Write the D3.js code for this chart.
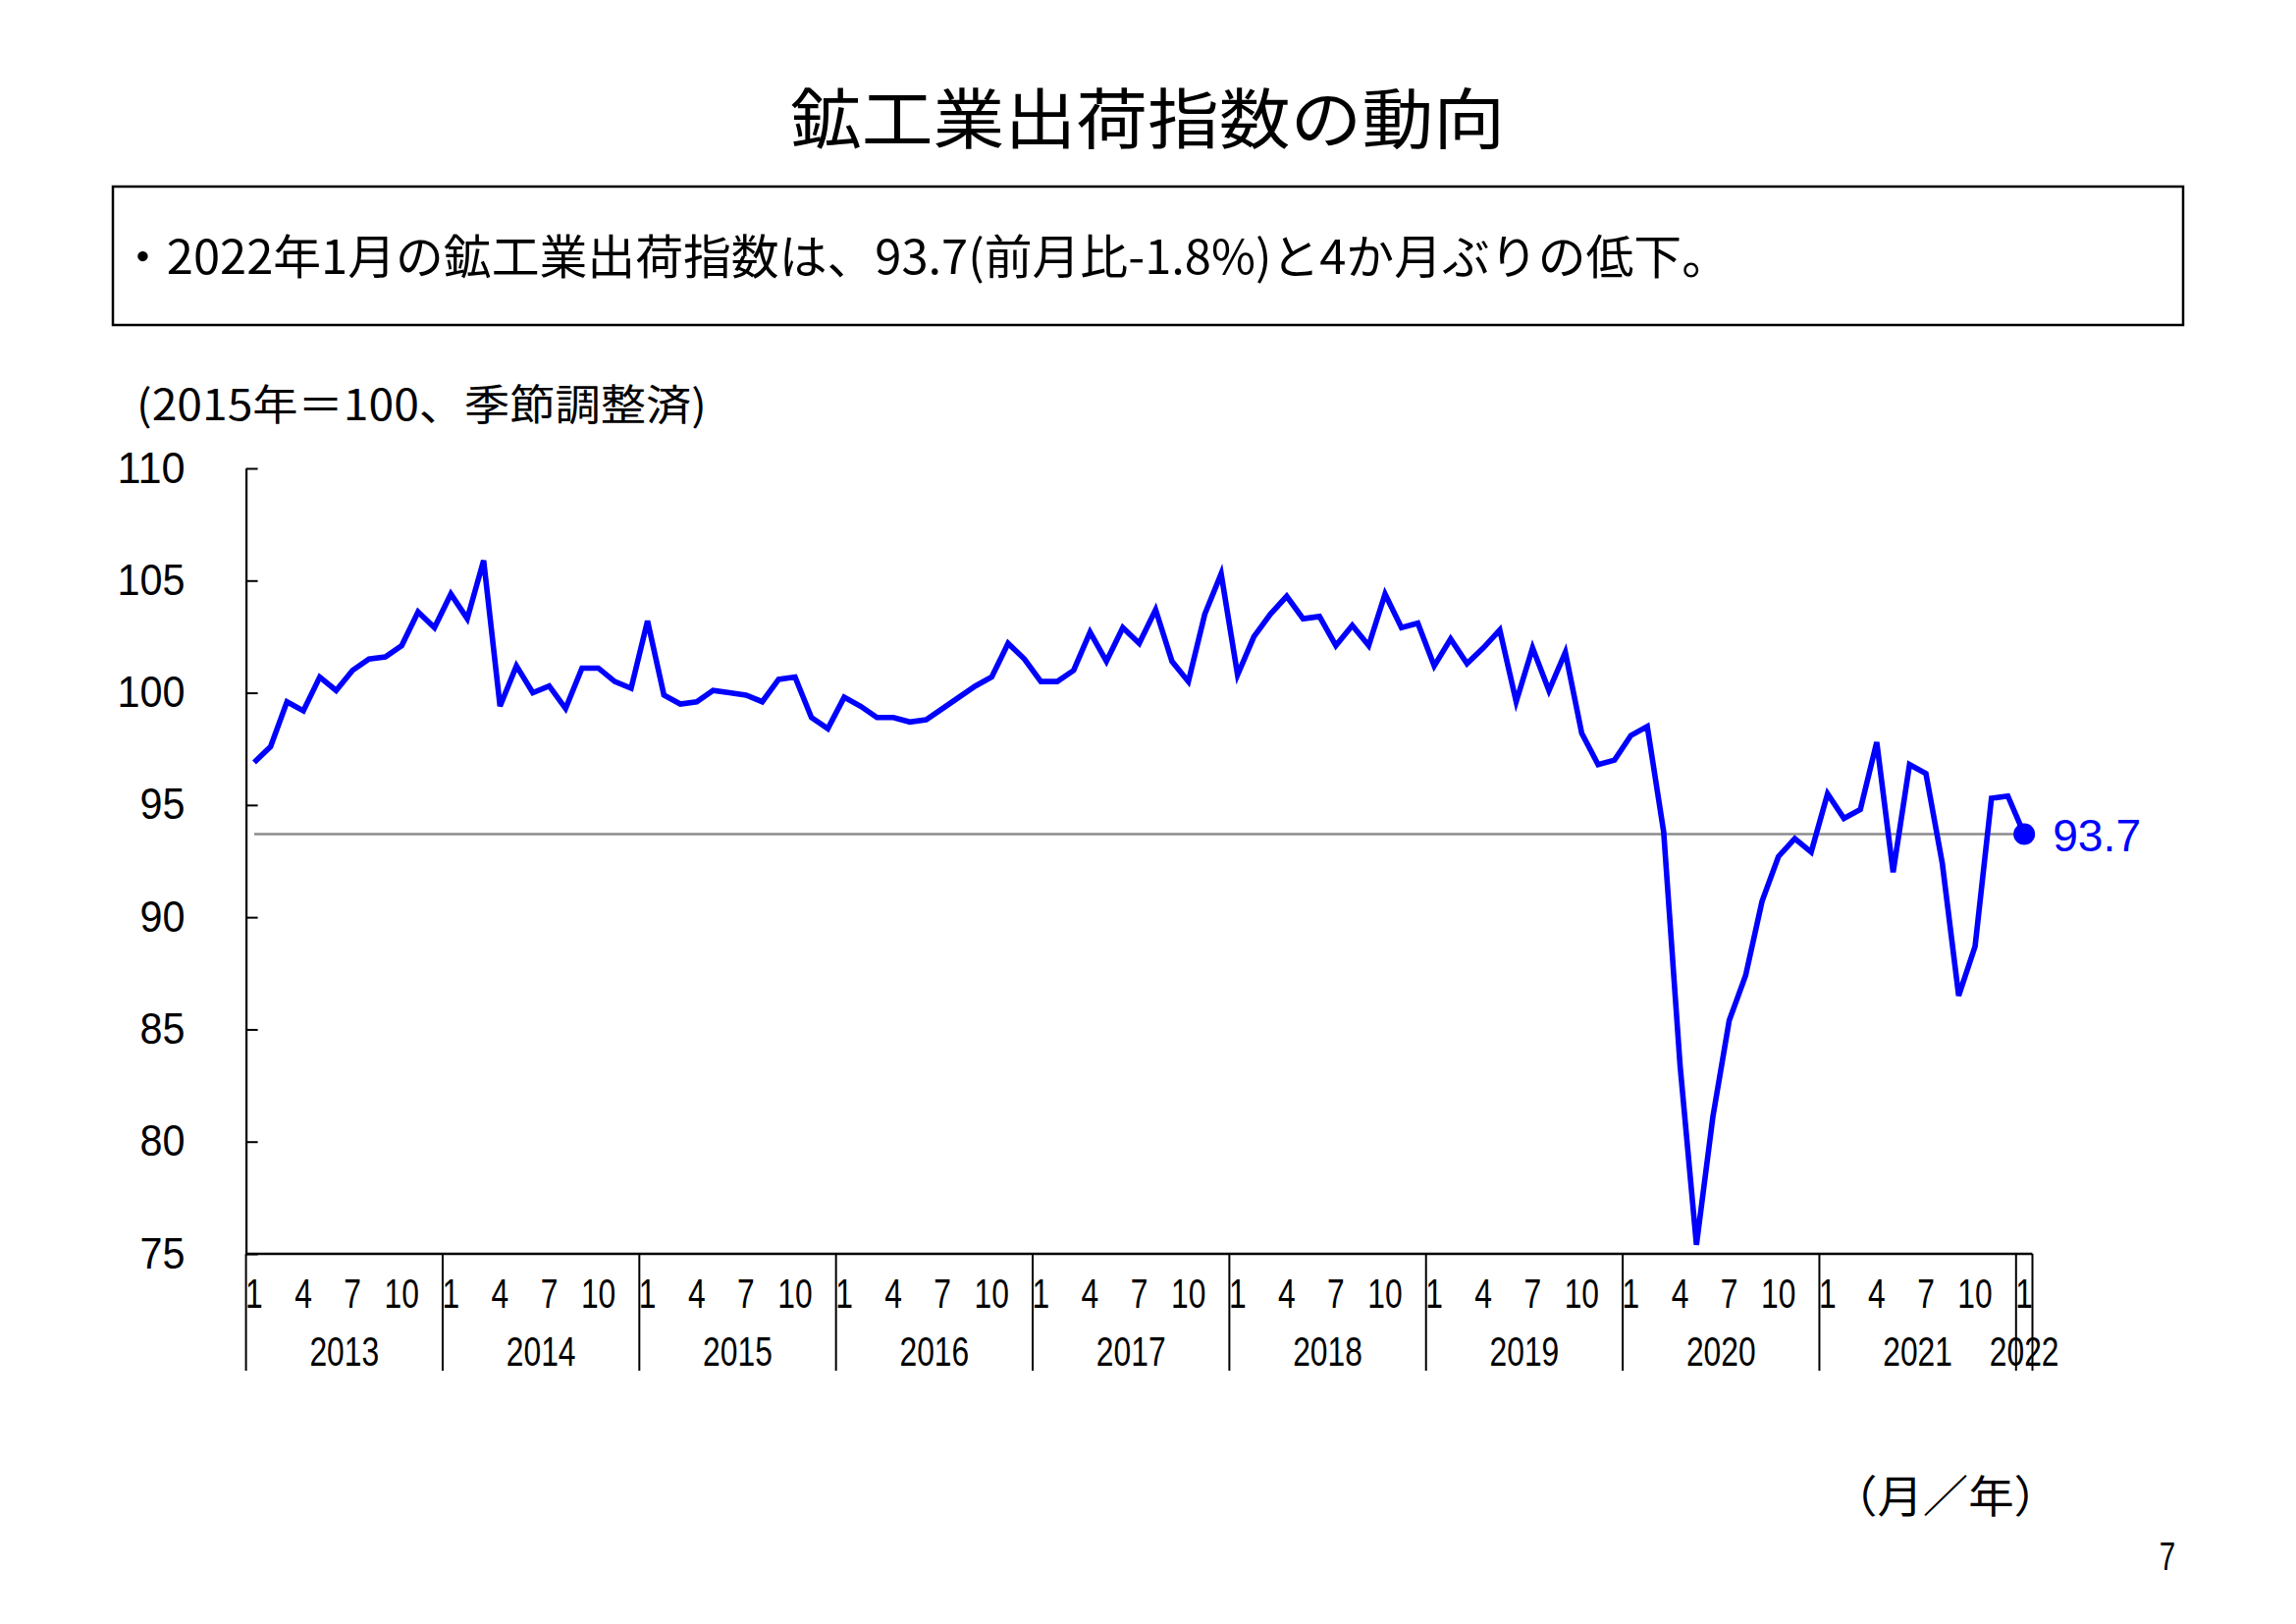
<!DOCTYPE html>
<html>
<head>
<meta charset="utf-8">
<script src="https://cdn.jsdelivr.net/npm/d3@7"></script>
<style>
html,body{margin:0;padding:0;background:#fff;}
svg{display:block;}
</style>
</head>
<body>
<svg id="chart" width="2339" height="1654"></svg>
<script>
// ---- data ----
const years = [2013, 2014, 2015, 2016, 2017, 2018, 2019, 2020, 2021, 2022];
const v2013 = [96.9, 97.6, 99.6, 99.2, 100.7, 100.1, 101.0, 101.5, 101.6, 102.1, 103.6, 102.9];
const v2014 = [104.4, 103.3, 105.9, 99.4, 101.2, 100.0, 100.3, 99.3, 101.1, 101.1, 100.5, 100.2];
const v2015 = [103.2, 99.9, 99.5, 99.6, 100.1, 100.0, 99.9, 99.6, 100.6, 100.7, 98.9, 98.4];
const v2016 = [99.8, 99.4, 98.9, 98.9, 98.7, 98.8, 99.3, 99.8, 100.3, 100.7, 102.2, 101.5];
const v2017 = [100.5, 100.5, 101.0, 102.7, 101.4, 102.9, 102.2, 103.7, 101.4, 100.5, 103.5, 105.3];
const v2018 = [100.8, 102.5, 103.5, 104.3, 103.3, 103.4, 102.1, 103.0, 102.1, 104.4, 102.9, 103.1];
const v2019 = [101.2, 102.4, 101.3, 102.0, 102.8, 99.6, 102.0, 100.1, 101.8, 98.2, 96.8, 97.0];
const v2020 = [98.1, 98.5, 93.8, 83.4, 75.4, 81.1, 85.4, 87.4, 90.7, 92.7, 93.5, 92.9];
const v2021 = [95.5, 94.4, 94.8, 97.8, 92.0, 96.8, 96.4, 92.4, 86.5, 88.7, 95.3, 95.4];
const v2022 = [93.7];
const monthTicks = [1, 4, 7, 10];
const yTicks = [75, 80, 85, 90, 95, 100, 105, 110];
const latestValue = 93.7;

const titleText = "鉱工業出荷指数の動向";
const noteText = "・2022年1月の鉱工業出荷指数は、93.7(前月比-1.8%)と4か月ぶりの低下。";
const unitText = "(2015年＝100、季節調整済)";
const axisUnitText = "（月／年）";
const pageText = "7";

const series = [].concat(v2013, v2014, v2015, v2016, v2017, v2018, v2019, v2020, v2021, v2022);
const nMonths = series.length; // 109

// ---- layout ----
const L = 250.6, R = 2070.5, T = 477, B = 1277;
const svg = d3.select("#chart");
const jp = "'Noto Sans CJK JP', 'Noto Sans', sans-serif";
const lat = "'Liberation Sans', Arial, sans-serif";

const x = d3.scaleLinear().domain([0, nMonths]).range([L, R]);
const y = d3.scaleLinear().domain([75, 110]).range([B, T]);
const px = i => x(i + 0.5);

// title
svg.append("text").attr("x", 805).attr("y", 146)
  .attr("font-family", jp).attr("font-size", 67).attr("font-weight", 400)
  .attr("textLength", 728).attr("lengthAdjust", "spacingAndGlyphs")
  .attr("fill", "#000").text(titleText);

// note box
svg.append("rect").attr("x", 115).attr("y", 190).attr("width", 2109).attr("height", 141)
  .attr("fill", "none").attr("stroke", "#000").attr("stroke-width", 2.5);
svg.append("text").attr("x", 121).attr("y", 279)
  .attr("font-family", jp).attr("font-size", 48)
  .attr("textLength", 1641).attr("lengthAdjust", "spacingAndGlyphs")
  .attr("fill", "#000").text(noteText);

// unit label
svg.append("text").attr("x", 139).attr("y", 428)
  .attr("font-family", jp).attr("font-size", 43)
  .attr("textLength", 581).attr("lengthAdjust", "spacingAndGlyphs")
  .attr("fill", "#000").text(unitText);

// y axis
const yAxis = d3.axisLeft(y).tickValues(yTicks).tickSizeInner(-12).tickSizeOuter(0).tickPadding(62);
const gy = svg.append("g").attr("transform", `translate(${L},0)`).call(yAxis);
gy.select(".domain").attr("stroke", "#000").attr("stroke-width", 2.2);
gy.selectAll(".tick line").attr("stroke", "#000").attr("stroke-width", 2);
gy.selectAll(".tick text").attr("font-family", lat).attr("font-size", 44).attr("fill", "#000")
  .attr("textLength", function () { return this.textContent.length * 23; })
  .attr("lengthAdjust", "spacingAndGlyphs");

// x axis baseline
svg.append("line").attr("x1", L).attr("x2", R).attr("y1", B).attr("y2", B)
  .attr("stroke", "#000").attr("stroke-width", 2.5);

// year separators
const sepIdx = years.map((yr, k) => k * 12).concat([nMonths]);
svg.append("g").selectAll("line").data(sepIdx).join("line")
  .attr("x1", d => x(d)).attr("x2", d => x(d))
  .attr("y1", B).attr("y2", 1396)
  .attr("stroke", "#000").attr("stroke-width", 2);

// month labels
const monthLabels = [];
years.forEach((yr, k) => {
  monthTicks.forEach(m => {
    const idx = k * 12 + (m - 1);
    if (idx < nMonths) monthLabels.push({ idx, label: String(m) });
  });
});
svg.append("g").selectAll("text").data(monthLabels).join("text")
  .attr("transform", d => `translate(${px(d.idx)},1332) scale(0.74,1)`)
  .attr("text-anchor", "middle").attr("font-family", lat).attr("font-size", 43)
  .attr("fill", "#000").text(d => d.label);

// year labels
svg.append("g").selectAll("text").data(years).join("text")
  .attr("transform", (yr, k) => {
    const s = k * 12, e = Math.min(nMonths, (k + 1) * 12);
    return `translate(${(x(s) + x(e)) / 2},1391) scale(0.74,1)`;
  })
  .attr("text-anchor", "middle").attr("font-family", lat).attr("font-size", 43)
  .attr("fill", "#000").text(d => String(d));

// reference line at latest value
svg.append("line").attr("x1", px(0)).attr("x2", px(nMonths - 1))
  .attr("y1", y(latestValue)).attr("y2", y(latestValue))
  .attr("stroke", "#8c8c8c").attr("stroke-width", 2.5);

// series line
const line = d3.line().x((d, i) => px(i)).y(d => y(d));
svg.append("path").datum(series).attr("d", line)
  .attr("fill", "none").attr("stroke", "#0000ff").attr("stroke-width", 5.6)
  .attr("stroke-linejoin", "miter").attr("stroke-miterlimit", 4);

// latest point
svg.append("circle").attr("cx", px(nMonths - 1)).attr("cy", y(latestValue)).attr("r", 11)
  .attr("fill", "#0000ff");
svg.append("text").attr("x", px(nMonths - 1) + 29).attr("y", y(latestValue) + 17)
  .attr("font-family", lat).attr("font-size", 47)
  .attr("textLength", 90).attr("lengthAdjust", "spacingAndGlyphs")
  .attr("fill", "#0000ff").text(String(latestValue));

// axis unit
svg.append("text").attr("x", 1866).attr("y", 1541)
  .attr("font-family", jp).attr("font-size", 45)
  .attr("textLength", 232).attr("lengthAdjust", "spacingAndGlyphs")
  .attr("fill", "#000").text(axisUnitText);

// page number
svg.append("text").attr("transform", "translate(2208,1599) scale(0.74,1)")
  .attr("text-anchor", "middle").attr("font-family", lat).attr("font-size", 40)
  .attr("fill", "#000").text(pageText);
</script>
</body>
</html>
